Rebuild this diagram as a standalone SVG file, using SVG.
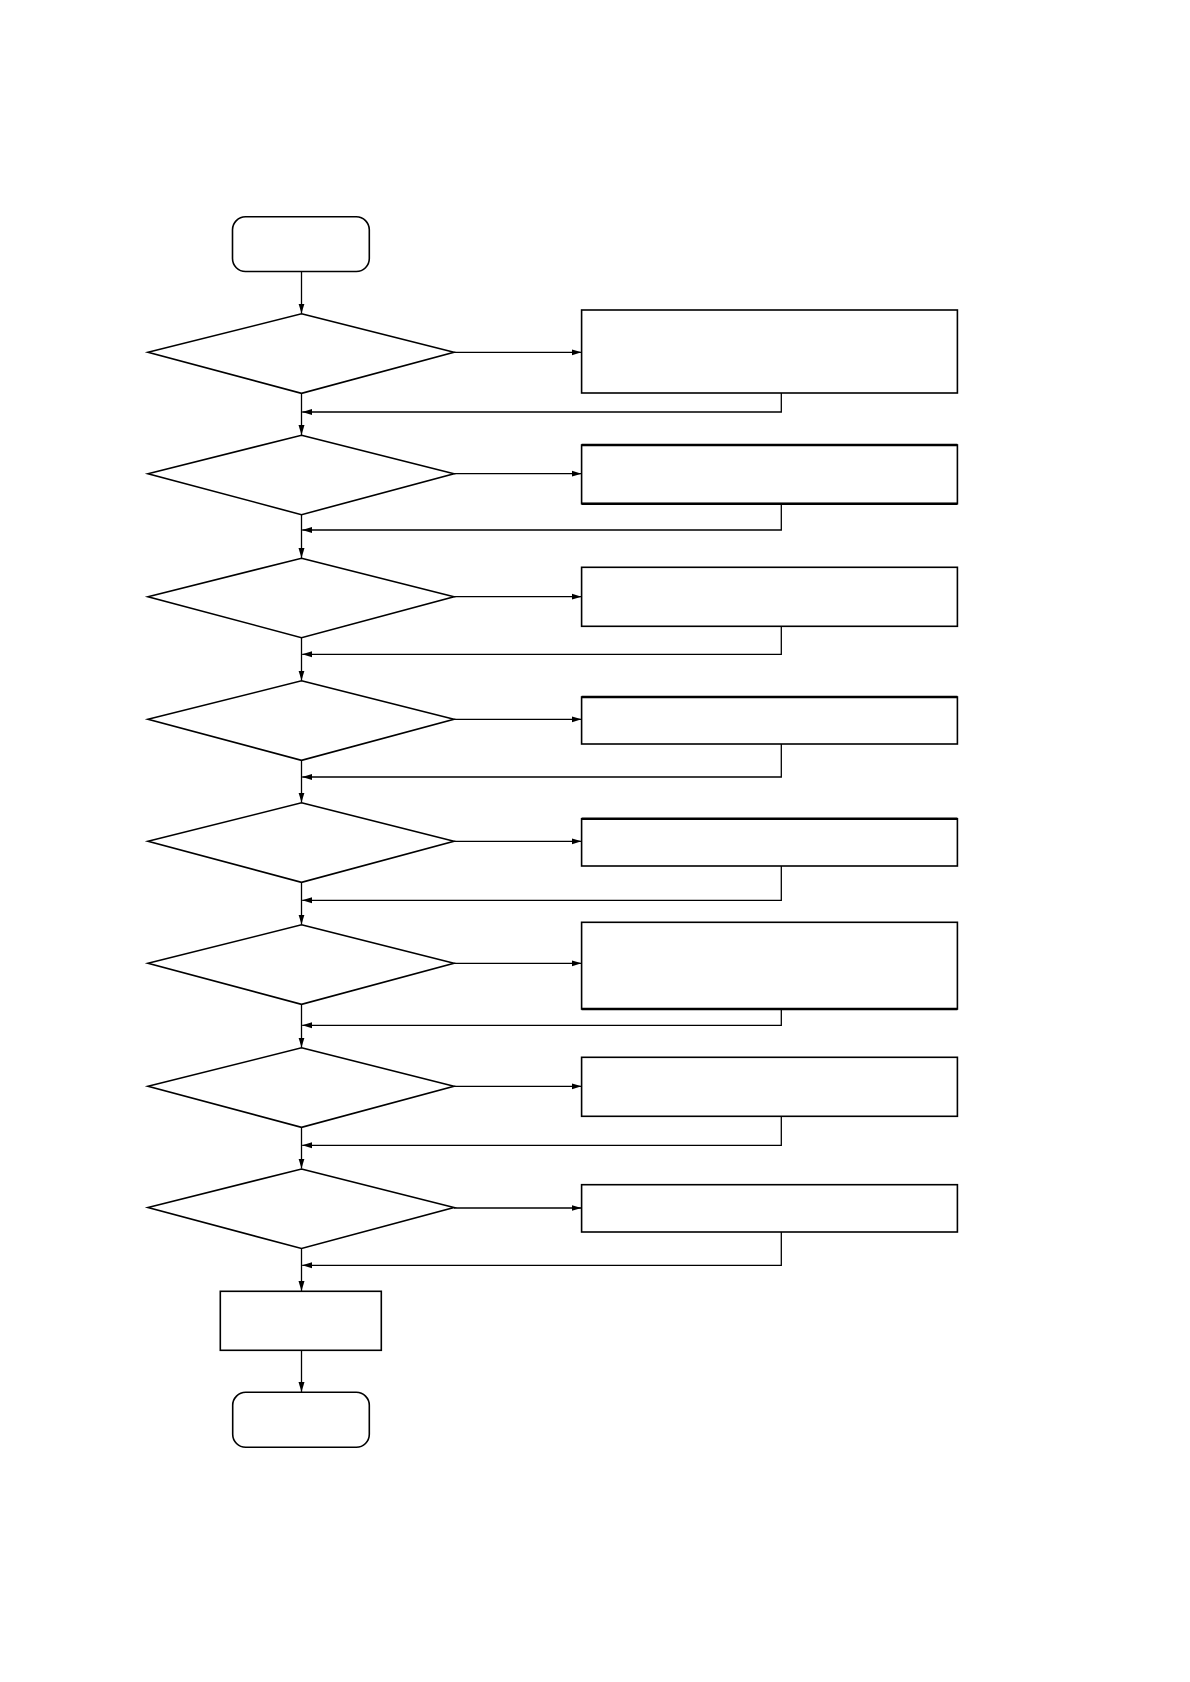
<svg xmlns="http://www.w3.org/2000/svg" width="1190" height="1682" viewBox="0 0 1190 1682">
<style>
.n{fill:#fff;stroke:#000;stroke-width:1.6}
.c{fill:none;stroke:#000;stroke-width:1.3}
.t{stroke:#000;stroke-width:2.6}
</style>
<defs>
<marker id="a" markerWidth="11" markerHeight="8" refX="10" refY="4" orient="auto" markerUnits="userSpaceOnUse">
<path d="M0,1 L10,4 L0,7 Z" fill="#000"/>
</marker>
</defs>
<rect width="1190" height="1682" fill="#fff"/>
<g id="connectors">
<line class="c" x1="301.5" y1="271.5" x2="301.5" y2="313.5" marker-end="url(#a)"/>
<line class="c" x1="301.5" y1="393.5" x2="301.5" y2="435" marker-end="url(#a)"/>
<line class="c" x1="301.5" y1="515" x2="301.5" y2="558" marker-end="url(#a)"/>
<line class="c" x1="301.5" y1="638" x2="301.5" y2="680.5" marker-end="url(#a)"/>
<line class="c" x1="301.5" y1="760.5" x2="301.5" y2="802.5" marker-end="url(#a)"/>
<line class="c" x1="301.5" y1="882.5" x2="301.5" y2="924.5" marker-end="url(#a)"/>
<line class="c" x1="301.5" y1="1004.5" x2="301.5" y2="1047.5" marker-end="url(#a)"/>
<line class="c" x1="301.5" y1="1127.5" x2="301.5" y2="1168.5" marker-end="url(#a)"/>
<line class="c" x1="301.5" y1="1248.5" x2="301.5" y2="1291" marker-end="url(#a)"/>
<line class="c" x1="301.5" y1="1350.5" x2="301.5" y2="1392" marker-end="url(#a)"/>
<line class="c" x1="454" y1="352.3" x2="581.5" y2="352.3" marker-end="url(#a)"/>
<line class="c" x1="454" y1="473.7" x2="581.5" y2="473.7" marker-end="url(#a)"/>
<line class="c" x1="454" y1="596.7" x2="581.5" y2="596.7" marker-end="url(#a)"/>
<line class="c" x1="454" y1="719.3" x2="581.5" y2="719.3" marker-end="url(#a)"/>
<line class="c" x1="454" y1="841.3" x2="581.5" y2="841.3" marker-end="url(#a)"/>
<line class="c" x1="454" y1="963.3" x2="581.5" y2="963.3" marker-end="url(#a)"/>
<line class="c" x1="454" y1="1086.3" x2="581.5" y2="1086.3" marker-end="url(#a)"/>
<line class="c" x1="454" y1="1208" x2="581.5" y2="1208" marker-end="url(#a)"/>
<polyline class="c" points="781.3,393 781.3,412 302.2,412" marker-end="url(#a)"/>
<polyline class="c" points="781.3,504 781.3,530 302.2,530" marker-end="url(#a)"/>
<polyline class="c" points="781.3,626 781.3,654.3 302.2,654.3" marker-end="url(#a)"/>
<polyline class="c" points="781.3,744 781.3,777 302.2,777" marker-end="url(#a)"/>
<polyline class="c" points="781.3,866 781.3,900.3 302.2,900.3" marker-end="url(#a)"/>
<polyline class="c" points="781.3,1009 781.3,1025.3 302.2,1025.3" marker-end="url(#a)"/>
<polyline class="c" points="781.3,1116.3 781.3,1145.3 302.2,1145.3" marker-end="url(#a)"/>
<polyline class="c" points="781.3,1232 781.3,1265.3 302.2,1265.3" marker-end="url(#a)"/>
</g>
<g id="start"><rect class="n" x="232.5" y="216.8" width="136.8" height="54.7" rx="13"/></g>
<g id="d1"><polygon class="n" points="301.5,313.8 454,352.3 301.5,393.3 148,352.3"/></g>
<g id="d2"><polygon class="n" points="301.5,435.2 454,473.7 301.5,514.7 148,473.7"/></g>
<g id="d3"><polygon class="n" points="301.5,558.2 454,596.7 301.5,637.7 148,596.7"/></g>
<g id="d4"><polygon class="n" points="301.5,680.8 454,719.3 301.5,760.3 148,719.3"/></g>
<g id="d5"><polygon class="n" points="301.5,802.8 454,841.3 301.5,882.3 148,841.3"/></g>
<g id="d6"><polygon class="n" points="301.5,924.8 454,963.3 301.5,1004.3 148,963.3"/></g>
<g id="d7"><polygon class="n" points="301.5,1047.8 454,1086.3 301.5,1127.3 148,1086.3"/></g>
<g id="d8"><polygon class="n" points="301.5,1169 454,1207.5 301.5,1248.5 148,1207.5"/></g>
<g id="b1"><rect class="n" x="581.6" y="310" width="375.8" height="83"/></g>
<g id="b2"><rect class="n" x="581.6" y="445" width="375.8" height="58.7"/><line class="t" x1="581.6" y1="445" x2="957.4" y2="445"/><line class="t" x1="581.6" y1="503.7" x2="957.4" y2="503.7"/></g>
<g id="b3"><rect class="n" x="581.6" y="567.3" width="375.8" height="59"/></g>
<g id="b4"><rect class="n" x="581.6" y="697" width="375.8" height="47"/><line class="t" x1="581.6" y1="697" x2="957.4" y2="697"/></g>
<g id="b5"><rect class="n" x="581.6" y="818.8" width="375.8" height="47.2"/><line class="t" x1="581.6" y1="818.8" x2="957.4" y2="818.8"/></g>
<g id="b6"><rect class="n" x="581.6" y="922.3" width="375.8" height="86.7"/><line class="t" x1="581.6" y1="1009" x2="957.4" y2="1009"/></g>
<g id="b7"><rect class="n" x="581.6" y="1057.3" width="375.8" height="59"/></g>
<g id="b8"><rect class="n" x="581.6" y="1184.7" width="375.8" height="47.3"/></g>
<g id="process"><rect class="n" x="220.3" y="1291.3" width="161" height="59"/></g>
<g id="end"><rect class="n" x="232.7" y="1392.3" width="136.6" height="55" rx="13"/></g>
</svg>
